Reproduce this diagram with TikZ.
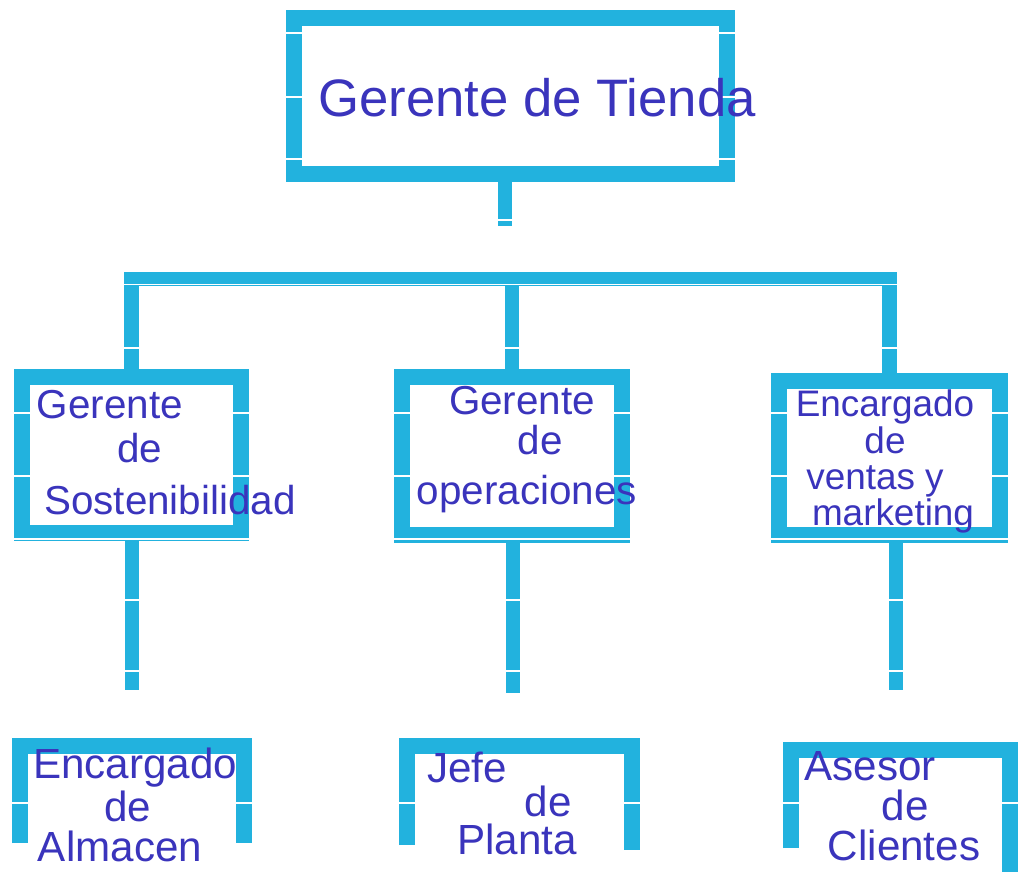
\documentclass[tikz,border=0pt]{standalone}
\usepackage{fontspec}
\setmainfont{Liberation Sans}
\usetikzlibrary{positioning,calc}
\definecolor{stripcyan}{RGB}{34,178,222}
\definecolor{inkblue}{RGB}{58,52,188}

\begin{document}
\begin{tikzpicture}[
    x=0.02cm, y=-0.02cm,
    boxframe/.style={draw=stripcyan, line width=9.5pt, inner sep=0pt, outer sep=0pt},
    leaf/.style={inner sep=0pt, outer sep=0pt},
    strip/.style={draw=stripcyan, line width=8.5pt},
    cut/.style={draw=white, line width=1.3pt},
    hand/.style={text=inkblue, inner sep=0pt, text height=0.68em, text depth=0.18em},
    big/.style={font=\fontsize{30}{32}\selectfont},
    mid/.style={font=\fontsize{23}{25}\selectfont},
    tight/.style={font=\fontsize{21}{23}\selectfont},
    low/.style={font=\fontsize{24}{26}\selectfont}
]
\fill[white] (0,0) rectangle (1024,877);
\useasboundingbox (0,0) rectangle (1024,877);

% boxes
\node[boxframe, minimum width=8.66cm, minimum height=3.12cm] (tienda) at (510.5,96) {};
\node[boxframe, minimum width=4.38cm, minimum height=3.12cm] (sost) at (131.5,455) {};
\node[boxframe, minimum width=4.40cm, minimum height=3.16cm] (opera) at (512,456) {};
\node[boxframe, minimum width=4.42cm, minimum height=3.08cm] (ventas) at (889.5,458) {};
\node[leaf, minimum width=4.48cm, minimum height=1.94cm] (almacen) at (132,794.5) {};
\node[leaf, minimum width=4.50cm, minimum height=1.98cm] (planta) at (519.5,795.5) {};
\node[leaf, minimum width=4.38cm, minimum height=2.16cm] (asesor) at (900.5,804) {};

% open frames at the bottom
\draw[strip, line width=9pt] (almacen.south west) |- (almacen.north east) -- (almacen.south east);
\draw[strip, line width=9pt] (planta.south west) |- (planta.north east) -- ([yshift=-0.1cm]planta.south east);
\draw[strip, line width=9pt] ([yshift=0.2cm]asesor.south west) |- (asesor.north east) -- ([yshift=-0.28cm]asesor.south east);

% connectors
\coordinate (tstem) at (505,226);
\coordinate (barL) at (124,279);
\coordinate (barR) at (897,279);
\coordinate (sstem) at (132,690);
\coordinate (ostem) at (513,693);
\coordinate (vstem) at (896,690);
\draw[strip] (tienda.south -| tstem) -- (tstem);
\draw[strip] (barL) -- (barR);
\draw[strip] (sost.north |- barL) -- (sost.north);
\draw[strip] (opera.north |- barL) -- (opera.north);
\draw[strip] (ventas.north |- barL) -- (ventas.north);
\draw[strip] (sstem |- sost.south) -- (sstem);
\draw[strip] (ostem |- opera.south) -- (ostem);
\draw[strip] (vstem |- ventas.south) -- (vstem);

% white gaps in the tape
\foreach \y in {33,97,159} {
  \draw[cut] (285,\y) -- (304,\y);
  \draw[cut] (717,\y) -- (737,\y);
}
\draw[cut] (496,220) -- (515,220);
\draw[cut, line width=1pt] (124,284.5) -- (897,284.5);
\foreach \x in {131.5,512,889.5} \draw[cut] (\x-9,348) -- (\x+9,348);
\foreach \x/\w in {131.5/110.5,512/111,889.5/111.5} {
  \draw[cut] (\x-\w-9,413) -- (\x-\w+9,413);
  \draw[cut] (\x+\w-9,413) -- (\x+\w+9,413);
  \draw[cut] (\x-\w-9,476) -- (\x-\w+9,476);
  \draw[cut] (\x+\w-9,476) -- (\x+\w+9,476);
  \draw[cut, line width=1pt] (\x-\w-9,539) -- (\x+\w+9,539);
}
\foreach \x in {132,513,896} {
  \draw[cut] (\x-9,600) -- (\x+9,600);
  \draw[cut] (\x-9,671) -- (\x+9,671);
}
\foreach \xa/\xb in {20/244,407/632,791/1010} {
  \draw[cut] (\xa-9,803) -- (\xa+9,803);
  \draw[cut] (\xb-9,803) -- (\xb+9,803);
}

% texts
\node[hand, big] (tiendaTxt) at (537,112) {Gerente de Tienda};

\node[hand, mid] (sostA) at (110,414) {Gerente};
\node[hand, mid] (sostB) at (140,458) {de};
\node[hand, mid] (sostC) at (170,510) {Sostenibilidad};

\node[hand, mid] (operaA) at (522,410) {Gerente};
\node[hand, mid] (operaB) at (540,450) {de};
\node[hand, mid] (operaC) at (527,500) {operaciones};

\node[hand, tight] (ventasA) at (885,412) {Encargado};
\node[hand, tight] (ventasB) at (885,449) {de};
\node[hand, tight] (ventasC) at (875,485) {ventas y};
\node[hand, tight] (ventasD) at (893,521) {marketing};

\node[hand, low] (almacenA) at (135,774) {Encargado};
\node[hand, low] (almacenB) at (128,817) {de};
\node[hand, low] (almacenC) at (120,857) {Almacen};

\node[hand, low] (plantaA) at (467,778) {Jefe};
\node[hand, low] (plantaB) at (548,812) {de};
\node[hand, low] (plantaC) at (517,850) {Planta};

\node[hand, low] (asesorA) at (870,776) {Asesor};
\node[hand, low] (asesorB) at (905,816) {de};
\node[hand, low] (asesorC) at (904,856) {Clientes};
\end{tikzpicture}
\end{document}
